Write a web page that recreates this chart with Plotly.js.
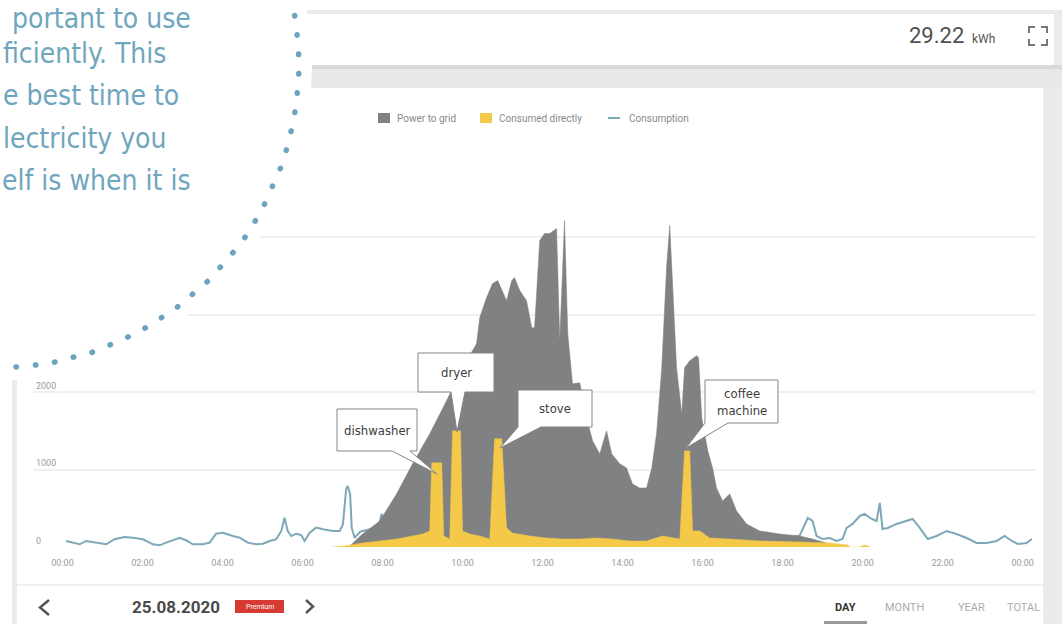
<!DOCTYPE html>
<html><head><meta charset="utf-8">
<script src="https://cdn.plot.ly/plotly-3.0.1.min.js"></script>
<style>html,body{margin:0;padding:0;background:#fff;overflow:hidden}#chart{width:1062px;height:624px}</style>
</head><body><div id="chart"></div>
<script>
// ---------------- data ----------------
const tickHours = [0,2,4,6,8,10,12,14,16,18,20,22,24];
const tickLabels = ['00:00','02:00','04:00','06:00','08:00','10:00','12:00','14:00','16:00','18:00','20:00','22:00','00:00'];
const yTickVals = [0,1000,2000,3000,4000,5000];
const yTickText = ['0','1000','2000','3000','4000','5000'];

const consumptionHours = [0.09,0.43,0.59,0.84,1.09,1.3,1.55,1.76,2.01,2.26,2.43,2.59,2.93,3.09,3.26,3.51,3.68,3.84,4.01,4.26,4.43,4.63,4.84,5.01,5.18,5.34,5.47,5.55,5.63,5.72,5.84,5.97,6.05,6.18,6.34,6.51,6.76,6.93,7.01,7.09,7.13,7.19,7.23,7.3,7.45,7.7,7.88,7.98,8.1,8.35,8.75,9.0,9.23,9.48,9.53,9.68,9.75,9.95,10.0,10.18,10.43,10.68,10.8,10.98,11.1,11.25,11.68,12.1,12.5,12.93,13.35,13.75,14.18,14.6,15.0,15.43,15.55,15.68,15.75,15.93,16.18,16.68,17.43,18.0,18.43,18.63,18.75,18.85,19.0,19.18,19.35,19.5,19.6,19.75,19.93,20.05,20.23,20.35,20.43,20.5,20.63,20.85,21.1,21.25,21.43,21.63,21.85,22.1,22.35,22.6,22.85,23.1,23.35,23.55,23.73,23.88,24.1,24.23];
const consumption = [78,35,78,56,35,100,129,120,100,35,22,56,120,87,35,35,56,172,185,142,120,56,35,43,78,100,207,379,207,142,172,155,78,185,250,229,207,207,294,747,789,682,250,120,200,230,225,430,210,110,150,170,1100,1370,150,110,1550,1550,210,170,150,110,1400,1400,250,180,140,120,100,100,120,100,80,80,140,100,1370,1370,210,210,120,100,80,100,150,375,336,142,103,116,78,103,246,298,401,427,362,336,569,233,246,298,336,362,246,103,142,207,168,116,52,52,78,142,78,39,52,103];

// visible top of the grey "Power to grid" area (stacked on consumed directly)
const gridHours = [7.18,7.5,7.93,8.35,8.75,9.18,9.6,10.0,10.35,10.43,10.6,10.75,10.88,10.98,11.1,11.23,11.3,11.43,11.6,11.73,11.8,11.93,12.05,12.18,12.35,12.43,12.55,12.63,12.75,12.93,13.1,13.25,13.43,13.6,13.73,13.93,14.1,14.25,14.43,14.6,14.73,14.85,14.98,15.1,15.18,15.25,15.35,15.48,15.55,15.68,15.85,15.9,15.98,16.13,16.25,16.35,16.5,16.68,16.85,17.1,17.43,17.93,18.43,18.75,19.1,19.3];
const powerToGridTop = [13,168,336,686,1074,1462,1889,2316,2627,2963,3222,3403,3442,3313,3183,3442,3481,3313,3183,2834,2834,3960,4050,4050,4115,2666,4218,2756,2109,2122,1669,1372,1203,1501,1203,1074,1022,815,763,763,1022,1462,2316,3610,4154,3403,2316,1721,2316,2407,2472,2446,1669,1242,1022,763,595,686,466,298,207,168,142,103,52,0];

const directHours = [6.75,7.05,7.5,7.93,8.35,8.75,9.0,9.18,9.23,9.48,9.53,9.68,9.75,9.95,10.0,10.18,10.43,10.68,10.8,10.98,11.1,11.25,11.68,12.1,12.5,12.93,13.35,13.75,14.18,14.6,15.0,15.43,15.55,15.68,15.75,15.93,16.18,16.68,17.43,18.43,19.18,19.63,19.68,19.9,20.05,20.2];
const consumedDirectly = [0,13,52,78,103,142,168,207,1087,1087,142,103,1501,1501,207,168,142,103,1398,1398,246,181,142,116,103,103,116,103,78,78,142,103,1242,1242,207,207,116,103,78,65,52,26,0,0,26,0];

const legendNames = ['Power to grid','Consumed directly','Consumption'];
const calloutLabels = ['dishwasher','dryer','stove','coffee<br>machine'];
const introLines = ['portant to use','ficiently. This','e best time to','lectricity you','elf is when it is'];
const totalValue = '29.22';
const totalUnit = 'kWh';
const dateLabel = '25.08.2020';
const badgeLabel = 'Premium';
const periodTabs = ['DAY','MONTH','YEAR','TOTAL'];

// ---------------- style ----------------
const C = {grid:'#7f8182', direct:'#f4c849', cons:'#7da8b8', teal:'#6fa6be', frame:'#e9ebec'};
const W = 1062, H = 624;
const fx = x => x / W, fy = y => 1 - y / H;
const f = p => fx(p[0]).toFixed(5) + ',' + fy(p[1]).toFixed(5);
const poly = (pts, close) => pts.map((p,i)=>(i?'L':'M')+f(p)).join(' ') + (close?' Z':'');
function smoothSegs(pts){
  let d='';
  for(let i=0;i<pts.length-1;i++){
    const p0=pts[Math.max(i-1,0)],p1=pts[i],p2=pts[i+1],p3=pts[Math.min(i+2,pts.length-1)];
    const c1=[p1[0]+(p2[0]-p0[0])/6,p1[1]+(p2[1]-p0[1])/6];
    const c2=[p2[0]-(p3[0]-p1[0])/6,p2[1]-(p3[1]-p1[1])/6];
    d+=' C'+f(c1)+' '+f(c2)+' '+f(p2);
  }
  return d;
}
const rect = (x0,y0,x1,y1,fill,layer) => ({type:'rect',xref:'paper',yref:'paper',x0:fx(x0),x1:fx(x1),y0:fy(y1),y1:fy(y0),fillcolor:fill,line:{width:0},layer:layer||'below'});
const pathShape = (d,opts) => Object.assign({type:'path',xref:'paper',yref:'paper',path:d,layer:'above'},opts);

// decorative arc of dots (bottom-left to top)
const arcDots = [[16,367],[36,365],[55,362],[74,357],[93,352],[112,344],[130,336],[147,327],[164,316],[180,305],[195,292],[210,279],[223,264],[236,249],[248,233],[258,216],[267,199],[275,180],[283,162],[288,143],[293,123],[296,104],[298,84],[299,65],[298,45],[296,25],[293,6],[289,-14]];
const maskEdge = [[306,5],[312,66],[305.5,126.6],[295,167],[278,205],[258.5,240.7],[232.5,272.8],[203.5,302],[171,327],[136,347.5],[97.6,364],[58,374.6],[17.8,380]];

const shapes = [
  rect(12,10,1070,630,C.frame),
  rect(17,14,1054,65,'#ffffff'),
  rect(17,65,1070,88,'#e8e8e8'),
  rect(17,65,1070,69,'#d9d9d9'),
  rect(17,88,1043,630,'#ffffff'),
  {type:'line',xref:'paper',yref:'paper',x0:fx(17),x1:fx(1043),y0:fy(585),y1:fy(585),line:{color:'#f1f1f1',width:2},layer:'below'},
  // white page area with the text, masking the screenshot
  pathShape('M'+f([-5,-5])+' L'+f([306,-5])+' L'+f(maskEdge[0])+smoothSegs(maskEdge)+' L'+f([-5,382])+' Z',{fillcolor:'#ffffff',line:{width:0}}),
  pathShape('M'+f(arcDots[0])+smoothSegs(arcDots),{fillcolor:'rgba(0,0,0,0)',line:{color:'#6aa4bf',width:5.5,dash:'0.5px,18.9px'}}),
  // legend swatches
  rect(378,113,390,123,C.grid,'above'),
  rect(480,113,492,123,C.direct,'above'),
  {type:'line',xref:'paper',yref:'paper',x0:fx(608),x1:fx(620),y0:fy(118),y1:fy(118),line:{color:C.cons,width:2},layer:'above'},
  // callout boxes
  pathShape(poly([[337,409],[417,409],[417,451],[410,451],[437,474],[392,451],[337,451]],true),{fillcolor:'#ffffff',line:{color:'#858585',width:1}}),
  pathShape(poly([[418,353],[494,353],[494,392],[465,392],[457,432],[451,392],[418,392]],true),{fillcolor:'#ffffff',line:{color:'#858585',width:1}}),
  pathShape(poly([[518,390],[592,390],[592,427],[541,427],[500,448],[518,427]],true),{fillcolor:'#ffffff',line:{color:'#858585',width:1}}),
  pathShape(poly([[705,380],[778,380],[778,423],[728,423],[686,448],[705,423]],true),{fillcolor:'#ffffff',line:{color:'#858585',width:1}}),
  // expand icon
  pathShape(poly([[1029,33],[1029,27],[1035,27]]),{line:{color:'#777',width:2}}),
  pathShape(poly([[1041,27],[1047,27],[1047,33]]),{line:{color:'#777',width:2}}),
  pathShape(poly([[1029,39],[1029,45],[1035,45]]),{line:{color:'#777',width:2}}),
  pathShape(poly([[1041,45],[1047,45],[1047,39]]),{line:{color:'#777',width:2}}),
  // date navigation
  pathShape(poly([[49,600],[40,607.5],[49,615]]),{line:{color:'#555',width:2.5}}),
  pathShape(poly([[306,600],[313,606.5],[306,613]]),{line:{color:'#555',width:2.5}}),
  rect(235,600,284,613,'#d63b33','above'),
  rect(824,621,867,624,'#9a9a9a','above')
];

const A = (x,y,text,opts) => Object.assign({xref:'paper',yref:'paper',x:fx(x),y:fy(y),text:text,showarrow:false,xanchor:'center',yanchor:'middle'},opts);
const introFont = {family:'DejaVu Sans Condensed, Lato, sans-serif',size:28,color:C.teal};
const calloutFont = {family:'DejaVu Sans Condensed, Lato, sans-serif',size:13,color:'#3d3d3d'};
const uiFont = (s,c) => ({family:'Roboto, sans-serif',size:s,color:c});
const introX = [192,0.5,0.5,0.5,193];
const introAnchor = ['right','left','left','left','right'];
const introBase = [20.7,63.3,105,148.3,190.7];

const annotations = [];
introLines.forEach((t,i)=>{
  if(i===0){
    annotations.push(A(introX[i],0.5,t,{xanchor:introAnchor[i],yanchor:'top',borderpad:0,font:introFont}));
  } else {
    annotations.push(A(introX[i],introBase[i]-10,t,{xanchor:introAnchor[i],font:introFont}));
  }
});
annotations.push(A(377,430,calloutLabels[0],{font:calloutFont}));
annotations.push(A(456,372.5,calloutLabels[1],{font:calloutFont}));
annotations.push(A(555,408.5,calloutLabels[2],{font:calloutFont}));
annotations.push(A(741.5,401.5,calloutLabels[3],{font:calloutFont}));
annotations.push(A(395,118,legendNames[0],{xanchor:'left',font:uiFont(10,'#8a8a8a')}));
annotations.push(A(497,118,legendNames[1],{xanchor:'left',font:uiFont(10,'#8a8a8a')}));
annotations.push(A(627,118,legendNames[2],{xanchor:'left',font:uiFont(10,'#8a8a8a')}));
annotations.push(A(966,35,totalValue,{xanchor:'right',font:uiFont(22,'#4f4f4f')}));
annotations.push(A(970,38.5,totalUnit,{xanchor:'left',font:uiFont(12,'#555')}));
annotations.push(A(176,606.5,'<b>'+dateLabel+'</b>',{font:uiFont(17,'#4a4a4a')}));
annotations.push(A(259.5,606.5,badgeLabel,{font:uiFont(7,'#ffffff')}));
const tabX = [845.5,904,971,1023.5];
periodTabs.forEach((t,i)=>annotations.push(A(tabX[i],607,i===0?'<b>'+t+'</b>':t,{font:uiFont(11,i===0?'#333':'#acacac')})));

const traces = [
  {x:consumptionHours,y:consumption,type:'scatter',mode:'lines',name:legendNames[2],line:{color:C.cons,width:2},hoverinfo:'skip'},
  {x:gridHours,y:powerToGridTop,type:'scatter',mode:'lines',name:legendNames[0],fill:'tozeroy',fillcolor:C.grid,line:{color:C.grid,width:0.5},hoverinfo:'skip'},
  {x:directHours,y:consumedDirectly,type:'scatter',mode:'lines',name:legendNames[1],fill:'tozeroy',fillcolor:C.direct,line:{color:C.direct,width:0.5},hoverinfo:'skip'}
];

const layout = {
  width:W,height:H,margin:{l:0,r:0,t:0,b:0,pad:0},
  paper_bgcolor:'#ffffff',plot_bgcolor:'rgba(0,0,0,0)',
  showlegend:false,hovermode:false,
  xaxis:{domain:[33/W,1035/W],range:[-0.7375,24.31],tickvals:tickHours,ticktext:tickLabels,showgrid:false,zeroline:false,showline:false,ticks:'',ticklabelstandoff:9,tickfont:uiFont(9,'#9c9c9c'),fixedrange:true},
  yaxis:{domain:[(H-547)/H,(H-160)/H],range:[0,5000],tickvals:yTickVals,ticktext:yTickText,ticklabelposition:'inside top',showgrid:true,gridcolor:'#f0f0f0',gridwidth:2,zeroline:false,showline:false,ticks:'',tickfont:uiFont(9,'#9c9c9c'),fixedrange:true},
  shapes:shapes,annotations:annotations
};

Plotly.newPlot('chart',traces,layout,{staticPlot:true,displayModeBar:false}).then(gd=>{
  gd.querySelectorAll('.shapelayer path').forEach(p=>{
    if((p.style.strokeDasharray||'').indexOf('18.9')>=0){p.style.strokeLinecap='round';}
  });
});
</script></body></html>
